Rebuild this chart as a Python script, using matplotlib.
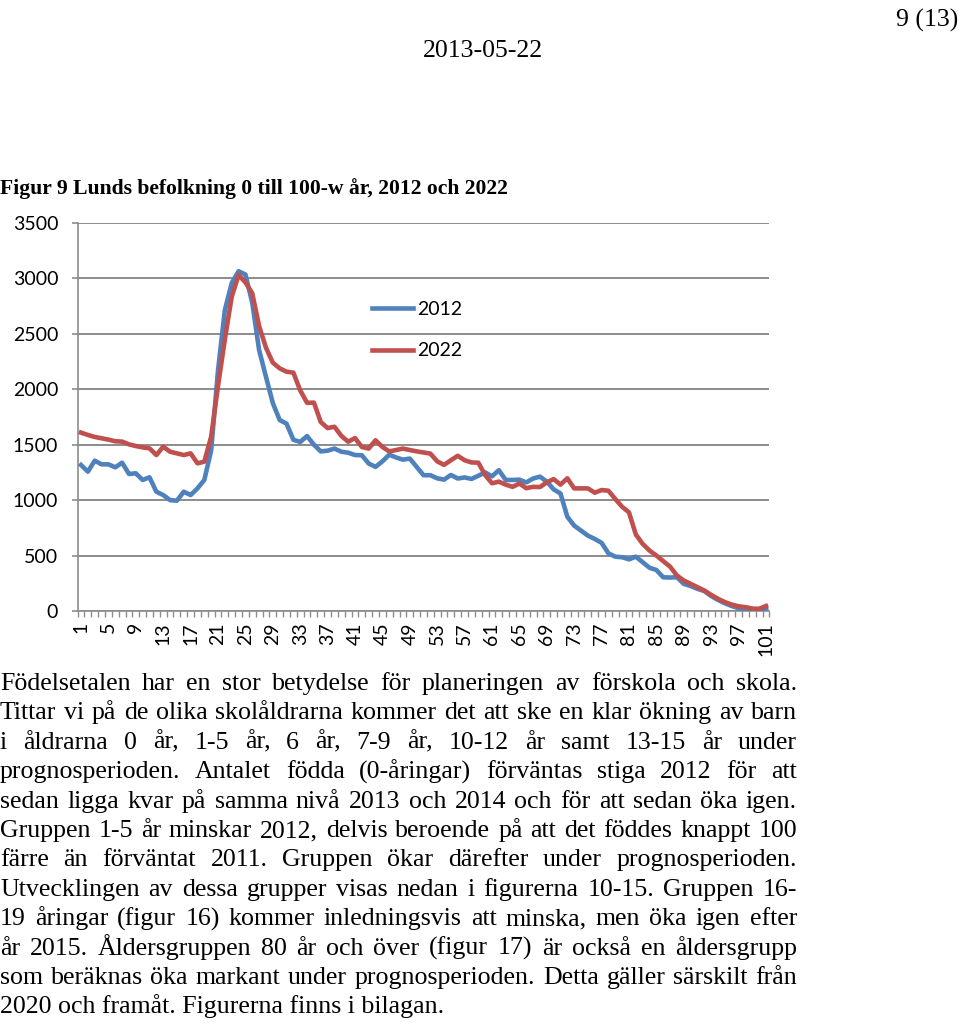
import matplotlib
matplotlib.use("Agg")
import matplotlib.pyplot as plt
from matplotlib.lines import Line2D

ages = list(range(1, 102))
pop_2012 = [1317, 1257, 1356, 1323, 1323, 1296, 1338, 1236, 1242, 1182,
            1206, 1076, 1046, 1000, 995, 1076, 1046, 1106, 1182, 1450,
            2170, 2715, 2958, 3065, 3035, 2780, 2354, 2113, 1876, 1723,
            1690, 1545, 1525, 1578, 1500, 1440, 1446, 1465, 1437, 1428,
            1407, 1405, 1330, 1300, 1350, 1410, 1385, 1365, 1375, 1300,
            1225, 1225, 1197, 1185, 1227, 1195, 1205, 1191, 1220, 1250,
            1215, 1270, 1182, 1182, 1185, 1160, 1195, 1212, 1167, 1097,
            1060, 850, 770, 725, 680, 650, 615, 520, 490, 485,
            466, 490, 440, 390, 370, 304, 302, 305, 245, 225,
            200, 180, 135, 100, 70, 45, 25, 15, 10, 10, 25]
pop_2022 = [1609, 1588, 1570, 1558, 1546, 1531, 1528, 1503, 1488, 1476,
            1467, 1407, 1482, 1437, 1422, 1407, 1422, 1332, 1347, 1573,
            2030, 2450, 2835, 3030, 2965, 2865, 2570, 2375, 2240, 2189,
            2159, 2150, 1990, 1878, 1880, 1705, 1650, 1662, 1580, 1527,
            1560, 1480, 1465, 1540, 1480, 1440, 1452, 1465, 1452, 1440,
            1430, 1420, 1350, 1318, 1360, 1400, 1360, 1340, 1338, 1227,
            1152, 1167, 1140, 1120, 1150, 1108, 1120, 1118, 1160, 1190,
            1140, 1197, 1106, 1106, 1106, 1067, 1091, 1085, 1010, 940,
            890, 690, 605, 545, 500, 450, 400, 320, 275, 245,
            215, 185, 145, 110, 80, 58, 42, 35, 22, 20, 45]
series_labels = ["2012", "2022"]
y_ticks = [0, 500, 1000, 1500, 2000, 2500, 3000, 3500]
x_tick_labels = [str(a) for a in range(1, 102, 4)]

page_no = "9 (13)"
date_text = "2013-05-22"
title_text = "Figur 9 Lunds befolkning 0 till 100-w år, 2012 och 2022"
body_lines = [
    "Födelsetalen har en stor betydelse för planeringen av förskola och skola.",
    "Tittar vi på de olika skolåldrarna kommer det att ske en klar ökning av barn",
    "i åldrarna 0 år, 1-5 år, 6 år, 7-9 år, 10-12 år samt 13-15 år under",
    "prognosperioden. Antalet födda (0-åringar) förväntas stiga 2012 för att",
    "sedan ligga kvar på samma nivå 2013 och 2014 och för att sedan öka igen.",
    "Gruppen 1-5 år minskar 2012, delvis beroende på att det föddes knappt 100",
    "färre än förväntat 2011. Gruppen ökar därefter under prognosperioden.",
    "Utvecklingen av dessa grupper visas nedan i figurerna 10-15. Gruppen 16-",
    "19 åringar (figur 16) kommer inledningsvis att minska, men öka igen efter",
    "år 2015. Åldersgruppen 80 år och över (figur 17) är också en åldersgrupp",
    "som beräknas öka markant under prognosperioden. Detta gäller särskilt från",
    "2020 och framåt. Figurerna finns i bilagan.",
]

W, H = 960, 1026
fig = plt.figure(figsize=(W / 100, H / 100), dpi=100)
fig.patch.set_facecolor("white")

def fx(px):
    return px / W

def fy(py):
    return 1 - py / H

serif = "Liberation Serif"
sans = "Lato"
tick_size = 14

fig.text(fx(958), fy(27), page_no, ha="right", va="baseline", family=serif, fontsize=18.5)
fig.text(fx(483), fy(57), date_text, ha="center", va="baseline", family=serif, fontsize=18.5)
fig.text(fx(0), fy(194), title_text, ha="left", va="baseline", family=serif,
         fontsize=15.6, fontweight="bold")

# Chart
ax_l, ax_r, ax_t, ax_b = 77.6, 769.4, 223, 611
ax = fig.add_axes([fx(ax_l), fy(ax_b), fx(ax_r) - fx(ax_l), fy(ax_t) - fy(ax_b)])
grid_c = "#8c8c8c"
lw = 3.3
ax.plot(ages, pop_2012, color="#4F81BD", lw=lw, solid_joinstyle="round", label=series_labels[0], zorder=3)
ax.plot(ages, pop_2022, color="#C0504D", lw=lw, solid_joinstyle="round", label=series_labels[1], zorder=4)
ax.set_xlim(0.5, 101.5)
ax.set_ylim(0, 3500)
ax.set_yticks(y_ticks)
ax.set_yticklabels([str(v) for v in y_ticks], family=sans, fontsize=tick_size)
ax.yaxis.grid(True, color=grid_c, lw=1.4)
ax.set_axisbelow(True)
for s in ["top", "right"]:
    ax.spines[s].set_visible(False)
for s in ["left", "bottom"]:
    ax.spines[s].set_color(grid_c)
    ax.spines[s].set_linewidth(1.2)
ax.tick_params(axis="y", length=4, color=grid_c, pad=10, width=1.2)
ax.set_xticks(list(range(1, 102, 4)))
ax.set_xticklabels(x_tick_labels, rotation=90, family=sans, fontsize=tick_size)
ax.tick_params(axis="x", which="major", length=0, pad=8)
ax.set_xticks([a + 0.5 for a in [0] + ages], minor=True)
ax.tick_params(axis="x", which="minor", length=4, color=grid_c, width=1.0)

handles = [Line2D([], [], color="#4F81BD", lw=lw), Line2D([], [], color="#C0504D", lw=lw)]
ax_w = ax_r - ax_l
ax_h = ax_b - ax_t
leg = ax.legend(handles, series_labels, loc="upper left",
                bbox_to_anchor=((372 - ax_l) / ax_w, (ax_b - 301) / ax_h),
                frameon=False, prop={"family": sans, "size": tick_size}, handlelength=2.1,
                handletextpad=0.2, labelspacing=1.25, borderaxespad=0, borderpad=0)

# Body text, justified
fig.canvas.draw()
renderer = fig.canvas.get_renderer()
body_size = 18.6
right_edge = 797
base0 = 690
line_step = 29.4

def word_width(w):
    t = fig.text(0, 0, w, family=serif, fontsize=body_size)
    bb = t.get_window_extent(renderer=renderer)
    t.remove()
    return bb.width

for i, line in enumerate(body_lines):
    yb = fy(base0 + i * line_step)
    words = line.split(" ")
    if i == len(body_lines) - 1:
        fig.text(fx(0), yb, line, ha="left", va="baseline", family=serif, fontsize=body_size)
        continue
    widths = [word_width(w) for w in words]
    gap = (right_edge - sum(widths)) / (len(words) - 1)
    x = 0.0
    for w, wd in zip(words, widths):
        fig.text(fx(x), yb, w, ha="left", va="baseline", family=serif, fontsize=body_size)
        x += wd + gap

fig.savefig("out.png", dpi=100, facecolor="white")
